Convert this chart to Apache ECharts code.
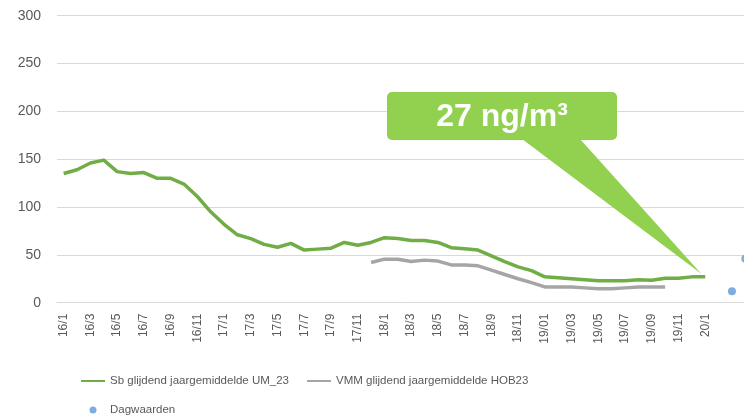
<!DOCTYPE html>
<html>
<head>
<meta charset="utf-8">
<script src="https://cdn.jsdelivr.net/npm/echarts@6/dist/echarts.min.js"></script>
<style>html,body{margin:0;padding:0;background:#fff;overflow:hidden;width:744px;height:419px}#c{width:752px;height:419px}</style>
</head>
<body>
<div id="c"></div>
<script>
const categories = [
  '16/1','16/2','16/3','16/4','16/5','16/6','16/7','16/8','16/9','16/10','16/11','16/12',
  '17/1','17/2','17/3','17/4','17/5','17/6','17/7','17/8','17/9','17/10','17/11','17/12',
  '18/1','18/2','18/3','18/4','18/5','18/6','18/7','18/8','18/9','18/10','18/11','18/12',
  '19/01','19/02','19/03','19/04','19/05','19/06','19/07','19/08','19/09','19/10','19/11','19/12',
  '20/1','20/2','20/3','20/4'
];
const labelledCategories = [
  '16/1','16/3','16/5','16/7','16/9','16/11','17/1','17/3','17/5','17/7','17/9','17/11',
  '18/1','18/3','18/5','18/7','18/9','18/11','19/01','19/03','19/05','19/07','19/09','19/11','20/1'
];
const sbValues = [
  135, 139, 146, 149, 137, 135, 136, 130, 130, 124, 111, 95,
  82, 71, 67, 61, 58, 62, 55, 56, 57, 63, 60, 63,
  68, 67, 65, 65, 63, 57.5, 56.5, 55, 49, 43, 37.5, 33.5,
  27, 26, 25, 24, 23, 23, 23, 24, 23.5, 25.5, 25.5, 27,
  27
];
const vmmValues = [
  null, null, null, null, null, null, null, null, null, null, null, null,
  null, null, null, null, null, null, null, null, null, null, null, 42,
  45.5, 45.5, 43, 44.5, 43.5, 39.5, 39.5, 38.5, 34, 29.5, 25, 21,
  16.5, 16.5, 16.5, 15.5, 14.5, 14.5, 15.5, 16.5, 16.5, 16.5
];
const dagCategories = ['20/3', '20/4'];
const dagValues = [12, 46];
const yTicks = [0, 50, 100, 150, 200, 250, 300];
const calloutText = '27 ng/m³';
const calloutCategory = '20/1';
const calloutValue = 27;

const textColor = '#595959';
const font = '"Liberation Sans", Arial, sans-serif';
const chart = echarts.init(document.getElementById('c'));
chart.setOption({
  animation: false,
  grid: { left: 57, top: 15.7, height: 287, right: 0, containLabel: false },
  xAxis: {
    type: 'category',
    data: categories,
    boundaryGap: true,
    axisLine: { show: true, lineStyle: { color: '#d9d9d9', width: 1 } },
    axisTick: { show: false },
    axisLabel: {
      rotate: 90,
      margin: 11,
      color: textColor,
      fontSize: 12,
      fontFamily: font,
      interval: (i, v) => labelledCategories.indexOf(v) >= 0
    }
  },
  yAxis: {
    type: 'value',
    min: yTicks[0],
    max: yTicks[yTicks.length - 1],
    interval: yTicks[1] - yTicks[0],
    axisLine: { show: false },
    axisTick: { show: false },
    splitLine: { lineStyle: { color: '#d9d9d9', width: 1 } },
    axisLabel: { color: textColor, fontSize: 14, margin: 16, fontFamily: font }
  },
  legend: {
    left: 80,
    top: 375,
    width: 470,
    padding: 0,
    itemWidth: 24,
    itemHeight: 7,
    itemGap: 17,
    textStyle: { color: textColor, fontSize: 11.5, fontFamily: font },
    data: [
      { name: 'Sb glijdend jaargemiddelde UM_23', itemStyle: { opacity: 0 } },
      { name: 'VMM glijdend jaargemiddelde HOB23', itemStyle: { opacity: 0 } },
      { name: 'Dagwaarden', icon: 'circle' }
    ]
  },
  series: [
    {
      name: 'Sb glijdend jaargemiddelde UM_23',
      type: 'line',
      data: sbValues,
      symbol: 'none',
      lineStyle: { color: '#70AD47', width: 3.5, join: 'round' },
      itemStyle: { color: '#70AD47' },
      z: 3
    },
    {
      name: 'VMM glijdend jaargemiddelde HOB23',
      type: 'line',
      data: vmmValues,
      symbol: 'none',
      lineStyle: { color: '#A5A5A5', width: 3.5, join: 'round' },
      itemStyle: { color: '#A5A5A5' },
      z: 2
    },
    {
      name: 'Dagwaarden',
      type: 'scatter',
      data: dagCategories.map((c, i) => [c, dagValues[i]]),
      symbolSize: 8,
      itemStyle: { color: '#5B9BD5' },
      z: 4
    }
  ]
});

const tip = chart.convertToPixel({ gridIndex: 0 }, [calloutCategory, calloutValue]);
const boxX = 387, boxY = 92, boxW = 230, boxH = 48;
chart.setOption({
  graphic: [
    {
      type: 'polygon',
      z: 100,
      shape: { points: [[boxX + 135, boxY + boxH - 1], [boxX + 193, boxY + boxH - 1], [tip[0] - 4, tip[1] - 3]] },
      style: { fill: '#92D050' }
    },
    {
      type: 'rect',
      z: 101,
      shape: { x: boxX, y: boxY, width: boxW, height: boxH, r: 5 },
      style: { fill: '#92D050' }
    },
    {
      type: 'text',
      z: 102,
      x: boxX + boxW / 2,
      y: boxY + boxH / 2 + 1,
      style: {
        text: calloutText,
        fill: '#ffffff',
        font: 'bold 32px "Liberation Sans", Arial, sans-serif',
        align: 'center',
        verticalAlign: 'middle'
      }
    }
  ]
});
</script>
</body>
</html>
